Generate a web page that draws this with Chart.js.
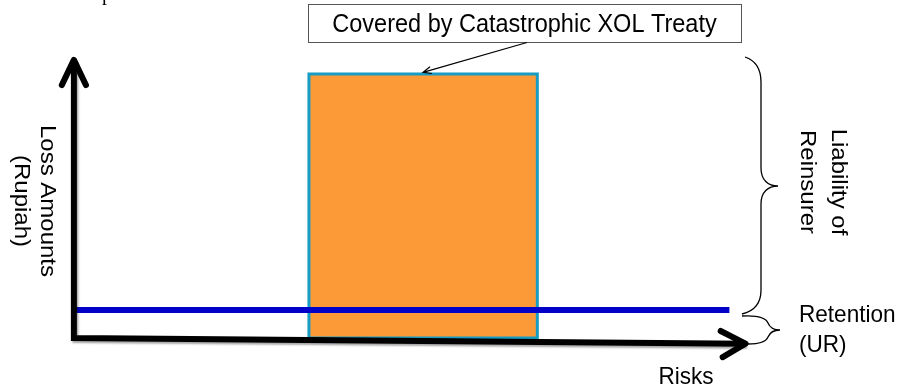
<!DOCTYPE html>
<html>
<head>
<meta charset="utf-8">
<script src="https://cdn.jsdelivr.net/npm/chart.js@4.4.1/dist/chart.umd.min.js"></script>
<style>
  html, body { margin: 0; padding: 0; background: #ffffff; }
  #wrap { width: 900px; height: 390px; position: relative; }
</style>
</head>
<body>
<div id="wrap"><canvas id="c" width="900" height="390"></canvas></div>
<script>
// Catastrophic excess-of-loss layer: the risks hit by one event and the
// loss amounts the reinsurer carries above the insurer's own retention.
const riskSpan = [35, 69];          // risks caught in the catastrophe
const layerLoss = [0, 94];          // loss amounts shown for the layer
const retentionLevel = 10;          // insurer's own retention (UR)
const retentionReach = [0, 97.6];   // risks the retention line runs over
const axisLabels = { y: ['Loss Amounts', '(Rupiah)'], x: 'Risks' };
const treatyLabel = 'Covered by Catastrophic XOL Treaty';
const liabilityLabel = ['Liability of', 'Reinsurer'];
const retentionLabel = ['Retention', '(UR)'];

// filled area: the layer's top edge, filled down to zero loss
const layerTop = [
  { x: riskSpan[0], y: layerLoss[1] },
  { x: riskSpan[1], y: layerLoss[1] }
];
// outline of the same layer
const layerOutline = [
  { x: riskSpan[0], y: layerLoss[0] },
  { x: riskSpan[0], y: layerLoss[1] },
  { x: riskSpan[1], y: layerLoss[1] },
  { x: riskSpan[1], y: layerLoss[0] },
  { x: riskSpan[0], y: layerLoss[0] }
];
const retentionPoints = [
  { x: retentionReach[0], y: retentionLevel },
  { x: retentionReach[1], y: retentionLevel }
];

const SANS = '"Liberation Sans", Arial, sans-serif';
const SQUEEZE = 0.94;   // the lettering is a little narrow

// soft drop shadow under the two axes
const axisShadow = {
  id: 'axisShadow',
  beforeDatasetDraw(chart, args) {
    if (chart.data.datasets[args.index].shadow) {
      const ctx = chart.ctx;
      ctx.save();
      ctx.shadowColor = 'rgba(0,0,0,0.35)';
      ctx.shadowOffsetX = 1.5;
      ctx.shadowOffsetY = 2;
      ctx.shadowBlur = 2;
    }
  },
  afterDatasetDraw(chart, args) {
    if (chart.data.datasets[args.index].shadow) chart.ctx.restore();
  }
};

// braces, leader arrow and all text
const notes = {
  id: 'notes',
  afterDatasetsDraw(chart) {
    const ctx = chart.ctx;
    const xs = chart.scales.x, ys = chart.scales.y;
    ctx.save();

    // cut-off page text at the very top
    ctx.fillStyle = '#000';
    ctx.font = '20px "Liberation Serif", serif';
    ctx.textAlign = 'left';
    ctx.textBaseline = 'alphabetic';
    ctx.fillText('p', 102, 0);

    const text = (t, x, y, size, align) => {
      ctx.save();
      ctx.translate(x, y);
      ctx.scale(SQUEEZE, 1);
      ctx.font = size + 'px ' + SANS;
      ctx.textAlign = align;
      ctx.textBaseline = 'alphabetic';
      ctx.fillText(t, 0, 0);
      ctx.restore();
    };
    // reads top to bottom; x is the baseline position
    const rot = (t, x, cy, size) => {
      ctx.save();
      ctx.translate(x, cy);
      ctx.scale(SQUEEZE, 1);
      ctx.rotate(Math.PI / 2);
      ctx.font = size + 'px ' + SANS;
      ctx.textAlign = 'center';
      ctx.textBaseline = 'alphabetic';
      ctx.fillText(t, 0, 0);
      ctx.restore();
    };

    // treaty caption box
    const bx = Math.round(xs.getPixelForValue(riskSpan[0])) - 0.5;
    ctx.fillStyle = '#fff';
    ctx.strokeStyle = '#555';
    ctx.lineWidth = 1;
    ctx.fillRect(bx, 4.5, 433, 38);
    ctx.strokeRect(bx, 4.5, 433, 38);
    ctx.fillStyle = '#000';
    text(treatyLabel, bx + 216, 32, 25, 'center');

    // leader arrow to the top of the layer
    const tipX = 423, tipY = ys.getPixelForValue(layerLoss[1]) - 1.5;
    const fromX = 527, fromY = 42.5;
    ctx.strokeStyle = '#000';
    ctx.lineWidth = 1.2;
    ctx.beginPath();
    ctx.moveTo(fromX, fromY);
    ctx.lineTo(tipX, tipY);
    const ang = Math.atan2(tipY - fromY, tipX - fromX);
    const hl = 9;
    ctx.moveTo(tipX - hl * Math.cos(ang - 0.4), tipY - hl * Math.sin(ang - 0.4));
    ctx.lineTo(tipX, tipY);
    ctx.lineTo(tipX - hl * Math.cos(ang + 0.4), tipY - hl * Math.sin(ang + 0.4));
    ctx.stroke();

    // brace for the reinsurer's liability
    ctx.lineWidth = 1.3;
    ctx.beginPath();
    ctx.moveTo(745, 57);
    ctx.bezierCurveTo(757, 61, 761, 70, 761, 82);
    ctx.lineTo(761, 168);
    ctx.bezierCurveTo(761, 180, 768, 186, 778, 186);
    ctx.bezierCurveTo(768, 186, 761, 192, 761, 204);
    ctx.lineTo(761, 290);
    ctx.bezierCurveTo(761, 303, 755, 311, 742, 314);
    ctx.stroke();

    // brace for the retention
    ctx.beginPath();
    ctx.moveTo(742, 316);
    ctx.bezierCurveTo(760, 315, 766, 318, 768, 323);
    ctx.bezierCurveTo(770, 328, 775, 330, 780, 330);
    ctx.bezierCurveTo(775, 330, 770, 332, 768, 337);
    ctx.bezierCurveTo(766, 342, 758, 344, 748, 344);
    ctx.stroke();

    ctx.fillStyle = '#000';
    rot(axisLabels.y[0], 40.5, 201, 24);
    rot(axisLabels.y[1], 15, 201, 24);
    rot(liabilityLabel[0], 832, 182, 24);
    rot(liabilityLabel[1], 801, 182, 24);

    text(retentionLabel[0], 799, 322, 24, 'left');
    text(retentionLabel[1], 799, 352, 24, 'left');
    text(axisLabels.x, 686, 384, 24, 'center');

    ctx.restore();
  }
};

new Chart(document.getElementById('c'), {
  type: 'line',
  data: {
    datasets: [
      {
        label: 'Covered by Catastrophic XOL Treaty',
        data: layerTop,
        fill: 'origin',
        backgroundColor: '#FD9A38',
        borderWidth: 0,
        pointRadius: 0,
        tension: 0,
        order: 5
      },
      {
        label: 'layer outline',
        data: layerOutline,
        fill: false,
        borderColor: '#179CC3',
        borderWidth: 3,
        borderJoinStyle: 'miter',
        pointRadius: 0,
        tension: 0,
        order: 4
      },
      {
        label: 'Retention (UR)',
        data: retentionPoints,
        fill: false,
        borderColor: '#0000C8',
        borderWidth: 6,
        pointRadius: 0,
        order: 3
      },
      {
        label: 'axes',
        data: [{ x: 0, y: 99 }, { x: 0, y: 0 }, { x: 100, y: -2 }],
        fill: false,
        borderColor: '#000',
        borderWidth: 6,
        borderJoinStyle: 'miter',
        pointRadius: 0,
        shadow: true,
        order: 2
      },
      {
        label: 'loss arrow',
        data: [{ x: -1.8, y: 90 }, { x: 0, y: 99 }, { x: 1.8, y: 90 }],
        fill: false,
        borderColor: '#000',
        borderWidth: 6,
        borderCapStyle: 'round',
        borderJoinStyle: 'round',
        pointRadius: 0,
        order: 1
      },
      {
        label: 'risk arrow',
        data: [{ x: 96.3, y: 2.5 }, { x: 100, y: -2 }, { x: 96.6, y: -6.8 }],
        fill: false,
        borderColor: '#000',
        borderWidth: 6,
        borderCapStyle: 'round',
        borderJoinStyle: 'round',
        pointRadius: 0,
        order: 1
      }
    ]
  },
  options: {
    responsive: false,
    animation: false,
    events: [],
    layout: { padding: 0 },
    scales: {
      x: { type: 'linear', min: -11, max: 123, display: false },
      y: { type: 'linear', min: -18.5, max: 120.3, display: false }
    },
    plugins: {
      legend: { display: false },
      tooltip: { enabled: false }
    }
  },
  plugins: [axisShadow, notes]
});
</script>
</body>
</html>
